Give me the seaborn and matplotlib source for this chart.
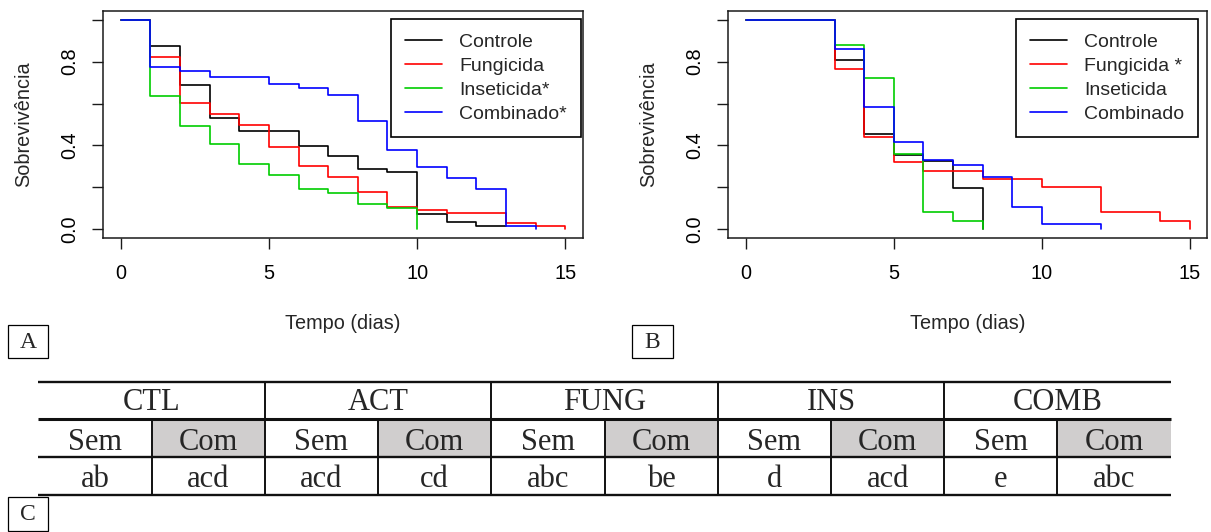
import numpy as np
import pandas as pd
import matplotlib
matplotlib.use("Agg")
import matplotlib.pyplot as plt
from matplotlib.patches import Rectangle
import seaborn as sns

# ---- survival curves (one value per day, from day 0 to the last day of each curve) ----
grupos_A = ["Controle", "Fungicida", "Inseticida*", "Combinado*"]
controle_A = [1.0, 0.874, 0.690, 0.529, 0.471, 0.471, 0.399, 0.348, 0.288, 0.272, 0.075, 0.037, 0.017, 0.017]
fungicida_A = [1.0, 0.820, 0.604, 0.552, 0.499, 0.394, 0.304, 0.251, 0.180, 0.108, 0.091, 0.076, 0.076, 0.032, 0.017, 0.0]
inseticida_A = [1.0, 0.634, 0.494, 0.407, 0.313, 0.261, 0.191, 0.173, 0.122, 0.103, 0.0]
combinado_A = [1.0, 0.773, 0.755, 0.727, 0.727, 0.692, 0.674, 0.639, 0.517, 0.378, 0.297, 0.243, 0.191, 0.017, 0.0]

grupos_B = ["Controle", "Fungicida *", "Inseticida", "Combinado"]
controle_B = [1.0, 1.0, 1.0, 0.809, 0.453, 0.355, 0.326, 0.196, 0.0]
fungicida_B = [1.0, 1.0, 1.0, 0.763, 0.442, 0.320, 0.278, 0.278, 0.238, 0.238, 0.202, 0.202, 0.081, 0.081, 0.040, 0.0]
inseticida_B = [1.0, 1.0, 1.0, 0.881, 0.722, 0.359, 0.081, 0.040, 0.0]
combinado_B = [1.0, 1.0, 1.0, 0.862, 0.582, 0.417, 0.332, 0.307, 0.250, 0.108, 0.027, 0.027, 0.0]

cores = ["black", "red", "#00cd00", "blue"]

x_ticks = [0, 5, 10, 15]
y_ticks = [0.0, 0.2, 0.4, 0.6, 0.8, 1.0]
y_tick_labels = ["0.0", "", "0.4", "", "0.8", ""]

# ---- letter table ----
tratamentos = ["CTL", "ACT", "FUNG", "INS", "COMB"]
condicoes = ["Sem", "Com"]
letras = [["ab", "acd"], ["acd", "cd"], ["abc", "be"], ["d", "acd"], ["e", "abc"]]

sns.set_style("ticks")
plt.rcParams["font.family"] = ["Liberation Sans", "DejaVu Sans"]

W, H = 1211, 532
fig = plt.figure(figsize=(W / 100, H / 100), dpi=100)
fig.patch.set_facecolor("white")

axA = fig.add_axes([103 / W, 1 - 238 / H, 480 / W, 227 / H])
axB = fig.add_axes([728.3 / W, 1 - 238 / H, 479 / W, 227 / H])

FS = 14.3
EDGE = "#1a1a1a"


def painel(ax, grupos, series, legenda_direita):
    linhas = []
    for g, vals in zip(grupos, series):
        for dia, v in enumerate(vals):
            linhas.append({"Grupo": g, "Tempo": dia, "Sobrevivencia": v})
    df = pd.DataFrame(linhas)
    sns.lineplot(data=df, x="Tempo", y="Sobrevivencia", hue="Grupo",
                 hue_order=grupos, palette=dict(zip(grupos, cores)),
                 drawstyle="steps-post", estimator=None, sort=False,
                 linewidth=1.2, ax=ax)
    ax.set_xlim(-0.6, 15.6)
    ax.set_ylim(-0.0415, 1.0415)
    ax.set_xticks(x_ticks)
    ax.set_xticklabels([str(t) for t in x_ticks])
    ax.set_yticks(y_ticks)
    ax.set_yticklabels(y_tick_labels, rotation=90, va="center")
    ax.tick_params(axis="both", which="major", bottom=True, left=True,
                   top=False, right=False, direction="out", length=8,
                   width=1.0, color=EDGE, labelsize=FS, labelcolor="black")
    ax.tick_params(axis="x", pad=11)
    ax.tick_params(axis="y", pad=9)
    for sp in ax.spines.values():
        sp.set_visible(True)
        sp.set_color(EDGE)
        sp.set_linewidth(1.1)
    ax.set_xlabel("Tempo (dias)", fontsize=FS)
    ax.xaxis.set_label_coords(0.5, -0.375)
    ax.xaxis.label.set_va("center")
    ax.set_ylabel("Sobrevivência", fontsize=FS)
    ax.yaxis.set_label_coords(-0.166, 0.5)
    ax.yaxis.label.set_va("center")

    antiga = ax.get_legend()
    handles = antiga.legend_handles
    labels = [t.get_text() for t in antiga.get_texts()]
    antiga.remove()
    leg = ax.legend(handles, labels, loc="upper right",
                    bbox_to_anchor=(legenda_direita / W, 1 - 19.3 / H),
                    bbox_transform=fig.transFigure, frameon=True, fancybox=False,
                    edgecolor="black", framealpha=1, borderaxespad=0,
                    fontsize=14, handlelength=1.9, handletextpad=0.9,
                    borderpad=0.72, labelspacing=0.33)
    leg.get_frame().set_linewidth(1.2)
    for h in leg.legend_handles:
        h.set_linewidth(1.2)


painel(axA, grupos_A, [controle_A, fungicida_A, inseticida_A, combinado_A], 581)
painel(axB, grupos_B, [controle_B, fungicida_B, inseticida_B, combinado_B], 1198.3)

# ---- overlay in pixel coordinates: panel letters and the table ----
ov = fig.add_axes([0, 0, 1, 1], zorder=-1)
ov.set_xlim(0, W)
ov.set_ylim(H, 0)
ov.axis("off")

serif = ["Liberation Serif", "DejaVu Serif"]


def caixa(x0, y0, w, h, letra):
    ov.add_patch(Rectangle((x0, y0), w, h, fill=False, ec="black", lw=0.9))
    ov.text(x0 + w / 2, y0 + h / 2 + 1, letra, ha="center", va="center",
            family=serif, fontsize=17)


caixa(8, 325, 40, 33, "A")
caixa(632, 325, 41, 33, "B")
caixa(8, 497, 40, 34, "C")

x_ini, x_fim = 38.3, 1170.7
larg = (x_fim - x_ini) / len(tratamentos)
y_top, y_l2, y_l3, y_bot = 381.7, 419.0, 456.7, 495.0
cinza = "#d0cece"

for i, trat in enumerate(tratamentos):
    gx0 = x_ini + i * larg
    meio = gx0 + larg / 2
    # shaded "Com" cell
    ov.add_patch(Rectangle((meio, y_l2), larg / 2, y_l3 - y_l2, fc=cinza, ec="none"))
    ov.text(gx0 + larg / 2, 410, trat, ha="center", va="baseline",
            family=serif, fontsize=22)
    for j, cond in enumerate(condicoes):
        cx = gx0 + larg * (0.25 + 0.5 * j)
        ov.text(cx, 450, cond, ha="center", va="baseline", family=serif, fontsize=22)
        ov.text(cx, 486.7, letras[i][j], ha="center", va="baseline", family=serif, fontsize=22)
    ov.vlines(meio, y_l2, y_bot, color="#111111", lw=1.4)
    if i > 0:
        ov.vlines(gx0, y_top, y_bot, color="#111111", lw=1.4)

ov.hlines([y_top, y_l3, y_bot], x_ini, x_fim, color="#111111", lw=1.7)
ov.hlines(y_l2, x_ini, x_fim, color="#111111", lw=2.2)

fig.savefig("out.png", dpi=100, facecolor="white")
